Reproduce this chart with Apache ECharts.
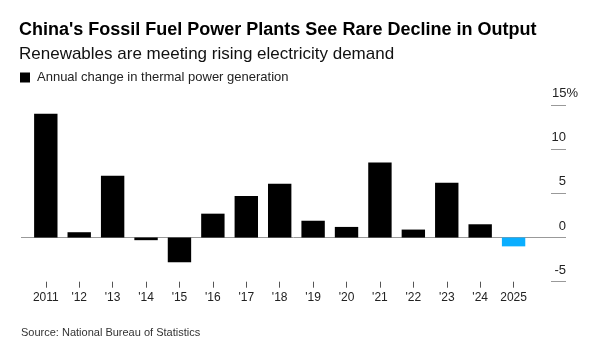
<!DOCTYPE html>
<html><head><meta charset="utf-8">
<script src="https://cdn.jsdelivr.net/npm/echarts@6/dist/echarts.min.js"></script>
<style>html,body{margin:0;padding:0;background:#fff}#c{width:595px;height:363px}</style>
</head><body><div id="c"></div>
<script>
const years = ['2011', "'12", "'13", "'14", "'15", "'16", "'17", "'18", "'19", "'20", "'21", "'22", "'23", "'24", '2025'];
const change = [14.0, 0.6, 7.0, -0.3, -2.8, 2.7, 4.7, 6.1, 1.9, 1.2, 8.5, 0.9, 6.2, 1.5, -1.0];
const yTicks = [-5, 0, 5, 10, 15];
const seriesName = 'Annual change in thermal power generation';

const FONT = 'Liberation Sans';
const cats = years.concat(['']);
const yMin = yTicks[0], yMax = yTicks[yTicks.length - 1];
const chart = echarts.init(document.getElementById('c'), null, {renderer: 'canvas'});
chart.setOption({
  animation: false,
  title: [
    {text: "China's Fossil Fuel Power Plants See Rare Decline in Output", left: 19, top: 21, padding: 0,
     textStyle: {fontFamily: FONT, fontSize: 18, fontWeight: 'bold', color: '#000'}},
    {text: 'Renewables are meeting rising electricity demand', left: 19, top: 46, padding: 0,
     textStyle: {fontFamily: FONT, fontSize: 17, fontWeight: 'normal', color: '#111'}},
    {text: 'Source: National Bureau of Statistics', left: 21, top: 327, padding: 0,
     textStyle: {fontFamily: FONT, fontSize: 11, fontWeight: 'normal', color: '#333'}}
  ],
  legend: {left: 20, top: 71, padding: 0, icon: 'rect', itemWidth: 10, itemHeight: 10, itemGap: 5,
    textStyle: {fontFamily: FONT, fontSize: 13, color: '#222', padding: [0, 0, 0, 2]}, data: [seriesName]},
  grid: [
    {left: 29.1, right: 31.3, top: 105, bottom: 81.3},
    {left: 21, right: 29, top: 105, bottom: 81.3},
    {left: 551, right: 29, top: 105, bottom: 81.3}
  ],
  xAxis: [
    {type: 'category', gridIndex: 0, data: cats,
     axisLine: {show: false, onZero: false},
     axisTick: {show: true, alignWithLabel: true, length: 6, lineStyle: {color: '#555'},
       interval: function (i) { return i < years.length; }},
     axisLabel: {interval: 0, margin: 10, fontFamily: FONT, fontSize: 12, color: '#222'}},
    {type: 'value', gridIndex: 1, min: 0, max: 1, show: false},
    {type: 'value', gridIndex: 2, min: 0, max: 1, show: false}
  ],
  yAxis: [
    {type: 'value', gridIndex: 0, min: yMin, max: yMax, interval: 5, show: false},
    {type: 'value', gridIndex: 1, position: 'right', min: yMin, max: yMax, interval: 5,
     axisLine: {show: false}, axisTick: {show: false},
     axisLabel: {inside: true, margin: 0, verticalAlign: 'bottom', align: 'right', padding: [0, 0, 5, 0],
       fontFamily: FONT, fontSize: 13, color: '#222',
       formatter: function (v) { return v === yMax ? '{n|' + v + '%}' : String(v); },
       rich: {n: {fontFamily: FONT, fontSize: 13, color: '#222', padding: [0, -12, 0, 0]}}},
     splitLine: {show: true, lineStyle: {width: 1,
       color: yTicks.map(function (t) { return t === 0 ? '#999' : 'rgba(0,0,0,0)'; })}}},
    {type: 'value', gridIndex: 2, min: yMin, max: yMax, interval: 5,
     axisLine: {show: false}, axisTick: {show: false}, axisLabel: {show: false},
     splitLine: {show: true, lineStyle: {width: 1, color: '#999'}}}
  ],
  series: [{
    name: seriesName, type: 'bar', xAxisIndex: 0, yAxisIndex: 0, barWidth: '70%', z: 3,
    itemStyle: {color: '#000'},
    data: change.map(function (v, i) {
      return i === change.length - 1 ? {value: v, itemStyle: {color: '#0AAEFF'}} : v;
    })
  }]
});
</script></body></html>
